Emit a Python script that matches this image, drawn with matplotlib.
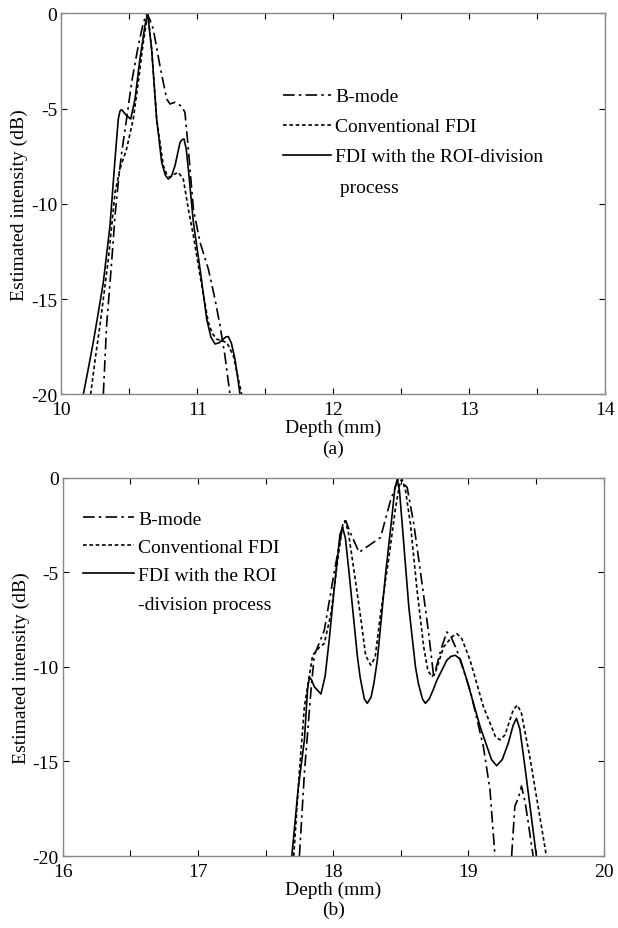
import matplotlib
matplotlib.use("Agg")
import matplotlib.pyplot as plt
import numpy as np

plt.rcParams['font.family'] = ['Liberation Serif', 'DejaVu Serif']
plt.rcParams['axes.unicode_minus'] = False
plt.rcParams['font.size'] = 14

# ---------------- Panel (a) data ----------------
a_bmode_x = [10.309, 10.333, 10.370, 10.395, 10.419, 10.444, 10.480, 10.517, 10.566, 10.600, 10.627,
             10.650, 10.676, 10.725, 10.775, 10.799, 10.836, 10.885, 10.909, 10.934, 10.971, 11.020,
             11.081, 11.130, 11.167, 11.203, 11.240]
a_bmode_y = [-20.0, -16.4, -13.07, -10.62, -8.87, -7.3, -5.55, -3.62, -1.7, -0.6, 0.0,
             -0.3, -0.82, -2.75, -4.5, -4.76, -4.67, -4.88, -5.2, -7.12, -10.27, -12.02,
             -13.42, -15.0, -16.4, -17.97, -20.0]

a_conv_x = [10.216, 10.250, 10.284, 10.346, 10.395, 10.431, 10.480, 10.529, 10.566, 10.603, 10.635,
            10.664, 10.701, 10.750, 10.775, 10.799, 10.830, 10.860, 10.897, 10.934, 10.971, 11.020,
            11.081, 11.110, 11.142, 11.180, 11.216, 11.265, 11.326]
a_conv_y = [-20.0, -18.1, -16.4, -12.9, -9.4, -8.17, -7.12, -5.55, -3.62, -1.52, 0.0,
            -1.87, -5.55, -8.0, -8.45, -8.61, -8.45, -8.35, -8.7, -10.27, -11.67, -13.77,
            -16.22, -16.8, -17.1, -17.2, -17.27, -17.97, -20.0]

a_roi_x = [10.162, 10.200, 10.235, 10.270, 10.309, 10.358, 10.395, 10.419, 10.432, 10.444, 10.460,
           10.480, 10.510, 10.542, 10.578, 10.615, 10.635, 10.664, 10.701, 10.738, 10.765, 10.787,
           10.810, 10.836, 10.873, 10.890, 10.902, 10.918, 10.934, 10.971, 11.020, 11.069, 11.100,
           11.130, 11.160, 11.191, 11.210, 11.228, 11.250, 11.277, 11.314]
a_roi_y = [-20.0, -18.6, -17.27, -15.8, -14.12, -11.15, -7.65, -5.55, -5.12, -5.06, -5.2,
           -5.37, -5.55, -4.5, -2.4, -0.65, 0.0, -1.87, -5.55, -7.82, -8.5, -8.7,
           -8.55, -8.0, -6.77, -6.62, -6.6, -7.1, -8.17, -10.97, -13.42, -16.05, -17.0,
           -17.36, -17.3, -17.1, -16.99, -16.97, -17.3, -18.15, -20.0]

# ---------------- Panel (b) data ----------------
b_bmode_x = [17.750, 17.787, 17.836, 17.860, 17.934, 18.005, 18.066, 18.093, 18.120, 18.191, 18.350,
             18.424, 18.485, 18.547, 18.596, 18.657, 18.706, 18.743, 18.800, 18.840, 18.870, 18.914,
             19.012, 19.110, 19.159, 19.196]
b_bmode_y = [-20.0, -15.6, -11.2, -9.39, -8.07, -5.1, -2.7, -2.28, -2.8, -3.95, -3.16,
             -1.2, 0.0, -0.53, -2.46, -5.61, -8.25, -10.53, -9.0, -8.16, -8.4, -9.12,
             -11.23, -14.21, -16.5, -20.0]
b_bmode2_x = [19.319, 19.343, 19.370, 19.392, 19.420, 19.441, 19.478]
b_bmode2_y = [-20.0, -17.37, -16.9, -16.3, -17.2, -18.2, -20.0]

b_conv_x = [17.708, 17.750, 17.787, 17.848, 17.900, 17.934, 17.983, 18.032, 18.070, 18.086, 18.110,
            18.150, 18.199, 18.240, 18.277, 18.310, 18.350, 18.412, 18.461, 18.490, 18.510, 18.535,
            18.571, 18.620, 18.669, 18.700, 18.730, 18.760, 18.816, 18.880, 18.914, 18.950, 19.012,
            19.110, 19.200, 19.233, 19.270, 19.330, 19.360, 19.390, 19.453, 19.576]
b_conv_y = [-20.0, -15.5, -12.1, -9.39, -8.95, -8.77, -7.2, -4.39, -2.5, -2.28, -2.8,
            -4.74, -7.19, -9.4, -9.91, -9.5, -7.19, -4.2, -1.58, -0.4, -0.1, -0.7,
            -2.46, -5.96, -8.95, -10.2, -10.53, -10.2, -8.95, -8.4, -8.25, -8.5, -9.65,
            -12.1, -13.7, -13.86, -13.6, -12.3, -12.02, -12.4, -14.74, -20.0]

b_roi_x = [17.694, 17.740, 17.787, 17.810, 17.824, 17.840, 17.860, 17.909, 17.940, 17.970, 18.000,
           18.032, 18.050, 18.069, 18.090, 18.118, 18.179, 18.200, 18.230, 18.252, 18.280, 18.300,
           18.326, 18.387, 18.436, 18.455, 18.473, 18.490, 18.510, 18.559, 18.608, 18.630, 18.660,
           18.681, 18.710, 18.740, 18.767, 18.840, 18.870, 18.902, 18.940, 18.988, 19.086, 19.170,
           19.208, 19.250, 19.294, 19.330, 19.355, 19.380, 19.417, 19.502]
b_roi_y = [-20.0, -16.5, -13.86, -11.2, -10.53, -10.7, -11.05, -11.44, -10.5, -8.6, -6.4,
           -4.2, -3.0, -2.63, -3.2, -5.09, -9.47, -10.6, -11.7, -11.93, -11.6, -10.9,
           -9.65, -5.09, -1.93, -0.6, -0.09, -0.7, -2.46, -6.84, -10.0, -10.9, -11.7,
           -11.93, -11.7, -11.2, -10.7, -9.65, -9.45, -9.39, -9.6, -10.7, -13.16, -14.9,
           -15.23, -14.9, -14.04, -13.1, -12.72, -13.3, -15.26, -20.0]

labels_a = ['B-mode', 'Conventional FDI', 'FDI with the ROI-division', ' process']
labels_b = ['B-mode', 'Conventional FDI', 'FDI with the ROI', '-division process']
yticks = [0, -5, -10, -15, -20]
yticklabels = ['0', '-5', '-10', '-15', '-20']

fig = plt.figure(figsize=(6.18, 9.29), dpi=100)
ax1 = fig.add_axes([0.0992, 0.5745, 0.8803, 0.4101])
ax2 = fig.add_axes([0.1015, 0.0775, 0.8754, 0.4073])

lw = 1.2
dashdot = (0, (7, 2.5, 1.5, 2.5))
dotted = (0, (2.2, 1.6))


def style(ax, xmin, xmax):
    ax.set_xlim(xmin, xmax)
    ax.set_ylim(-20, 0)
    ticks = np.arange(xmin, xmax + 0.01, 0.5)
    ax.set_xticks(ticks)
    ax.set_xticklabels([str(int(v)) if float(v).is_integer() else '' for v in ticks])
    ax.set_yticks(yticks)
    ax.set_yticklabels(yticklabels)
    ax.tick_params(direction='in', top=True, right=True, length=4, width=0.8,
                   labelsize=14, colors='black')
    ax.tick_params(axis='x', pad=5)
    ax.tick_params(axis='y', pad=3)
    for s in ax.spines.values():
        s.set_color('#888888')
        s.set_linewidth(1.0)
    ax.set_xlabel('Depth (mm)', fontsize=14, labelpad=0.5)
    ax.set_ylabel('Estimated intensity (dB)', fontsize=14, labelpad=2)


ax1.plot(a_bmode_x, a_bmode_y, color='black', lw=lw, linestyle=dashdot, label=labels_a[0])
ax1.plot(a_conv_x, a_conv_y, color='black', lw=lw, linestyle=dotted, label=labels_a[1])
ax1.plot(a_roi_x, a_roi_y, color='black', lw=lw, linestyle='-', label=labels_a[2])
ax1.plot([], [], color='none', label=labels_a[3])
style(ax1, 10, 14)
ax1.legend(loc='upper left', bbox_to_anchor=(0.393, 0.825), frameon=False, fontsize=14,
           handlelength=2.45, handletextpad=0.25, labelspacing=0.64, borderaxespad=0)

ax2.plot(b_bmode_x, b_bmode_y, color='black', lw=lw, linestyle=dashdot, label=labels_b[0])
ax2.plot(b_bmode2_x, b_bmode2_y, color='black', lw=lw, linestyle=dashdot)
ax2.plot(b_conv_x, b_conv_y, color='black', lw=lw, linestyle=dotted, label=labels_b[1])
ax2.plot(b_roi_x, b_roi_y, color='black', lw=lw, linestyle='-', label=labels_b[2])
ax2.plot([], [], color='none', label=labels_b[3])
style(ax2, 16, 20)
ax2.legend(loc='upper left', bbox_to_anchor=(0.023, 0.935), frameon=False, fontsize=14,
           handlelength=2.6, handletextpad=0.25, labelspacing=0.55, borderaxespad=0)

fig.text(0.539, 1 - 449 / 929, '(a)', ha='center', va='center', fontsize=14)
fig.text(0.539, 1 - 910 / 929, '(b)', ha='center', va='center', fontsize=14)

fig.savefig('out.png', dpi=100)
